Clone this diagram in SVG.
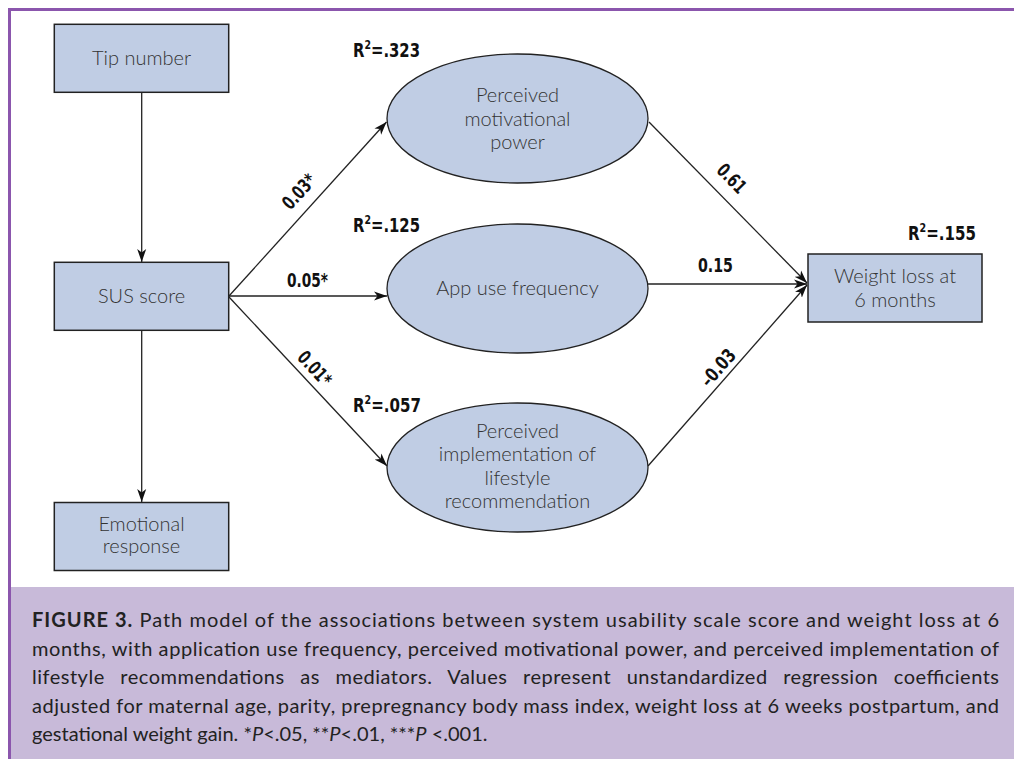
<svg xmlns="http://www.w3.org/2000/svg" width="1014" height="759" viewBox="0 0 1014 759">
<style>
.box{fill:#c0cde4;stroke:#222;stroke-width:1.5}
.ell{fill:#c0cde4;stroke:#222;stroke-width:1.3}
.nt{font-family:Lato,"Open Sans","Liberation Sans",sans-serif;font-weight:300;font-size:20px;fill:#333;text-anchor:middle}
.lb{font-family:"Liberation Sans Narrow","DejaVu Sans Condensed","Liberation Sans",sans-serif;font-weight:bold;font-size:19px;fill:#111;font-stretch:condensed}
.cn line{stroke:#222;stroke-width:1.3;marker-end:url(#arr)}
.cap{font-family:Lato,"Open Sans","Liberation Sans",sans-serif;font-size:20px;fill:#222}
</style>
<defs>
<marker id="arr" markerUnits="userSpaceOnUse" markerWidth="14" markerHeight="10" refX="13" refY="5" orient="auto">
<path d="M0,0.5 L13,5 L0,9.5 L3.5,5 z" fill="#111"/>
</marker>
</defs>
<rect width="1014" height="759" fill="#fff"/>
<rect x="10" y="587" width="1004" height="172" fill="#c8bad9"/>
<path d="M9.5,759 V9.5 H1014" fill="none" stroke="#8b56ad" stroke-width="3"/>

<g class="cn" id="connectors">
<line x1="141.7" y1="92.3" x2="141.7" y2="262"/>
<line x1="141.7" y1="330" x2="141.7" y2="502"/>
<line x1="229" y1="296" x2="386.5" y2="122"/>
<line x1="229" y1="296" x2="387" y2="296"/>
<line x1="229" y1="297" x2="387" y2="466"/>
<line x1="649" y1="122" x2="807" y2="283"/>
<line x1="647" y1="284" x2="807" y2="284"/>
<line x1="648" y1="466" x2="807" y2="285"/>
</g>

<g id="n-tip"><rect class="box" x="54.3" y="24.3" width="174.4" height="68"/><text class="nt" x="141.5" y="65">Tip number</text></g>
<g id="n-sus"><rect class="box" x="54.3" y="262.3" width="174.4" height="68"/><text class="nt" x="141.5" y="303">SUS score</text></g>
<g id="n-emo"><rect class="box" x="54.3" y="502.5" width="174.4" height="68"/><text class="nt" x="141.5" y="531">Emotional</text><text class="nt" x="141.5" y="553">response</text></g>
<g id="n-wl"><rect class="box" x="808" y="254" width="174" height="68"/><text class="nt" x="895" y="283">Weight loss at</text><text class="nt" x="895" y="307">6 months</text></g>
<g id="n-mot"><ellipse class="ell" cx="517.5" cy="118.5" rx="130.5" ry="64.5"/><text class="nt" x="517.5" y="102">Perceived</text><text class="nt" x="517.5" y="125.5">motivational</text><text class="nt" x="517.5" y="149">power</text></g>
<g id="n-app"><ellipse class="ell" cx="517.5" cy="288.5" rx="130.5" ry="64.5"/><text class="nt" x="517.5" y="295">App use frequency</text></g>
<g id="n-imp"><ellipse class="ell" cx="517.5" cy="467.5" rx="130.5" ry="64.5"/><text class="nt" x="517.5" y="437.5">Perceived</text><text class="nt" x="517.5" y="461">implementation of</text><text class="nt" x="517.5" y="484.5">lifestyle</text><text class="nt" x="517.5" y="508">recommendation</text></g>

<g id="labels">
<text class="lb" x="353" y="57" textLength="67" lengthAdjust="spacingAndGlyphs">R<tspan font-size="12" dy="-8">2</tspan><tspan dy="8">=.323</tspan></text>
<text class="lb" x="353" y="231.7" textLength="67" lengthAdjust="spacingAndGlyphs">R<tspan font-size="12" dy="-8">2</tspan><tspan dy="8">=.125</tspan></text>
<text class="lb" x="353" y="411.7" textLength="68" lengthAdjust="spacingAndGlyphs">R<tspan font-size="12" dy="-8">2</tspan><tspan dy="8">=.057</tspan></text>
<text class="lb" x="908" y="240" textLength="68" lengthAdjust="spacingAndGlyphs">R<tspan font-size="12" dy="-8">2</tspan><tspan dy="8">=.155</tspan></text>
<text class="lb" x="287" y="287.3" textLength="41" lengthAdjust="spacingAndGlyphs">0.05*</text>
<text class="lb" x="698" y="272.3" textLength="35" lengthAdjust="spacingAndGlyphs">0.15</text>
<text class="lb" text-anchor="middle" transform="translate(304,196) rotate(-48)" textLength="40" lengthAdjust="spacingAndGlyphs">0.03*</text>
<text class="lb" text-anchor="middle" transform="translate(310,373) rotate(47)" textLength="40" lengthAdjust="spacingAndGlyphs">0.01*</text>
<text class="lb" text-anchor="middle" transform="translate(727,183) rotate(46)" textLength="33" lengthAdjust="spacingAndGlyphs">0.61</text>
<text class="lb" text-anchor="middle" transform="translate(723,372) rotate(-49)" textLength="43" lengthAdjust="spacingAndGlyphs">–0.03</text>
</g>

<g id="caption" class="cap">
<text x="32" y="627" textLength="967" lengthAdjust="spacing"><tspan font-weight="bold">FIGURE 3.</tspan> Path model of the associations between system usability scale score and weight loss at 6</text>
<text x="32" y="655.5" textLength="967" lengthAdjust="spacing">months, with application use frequency, perceived motivational power, and perceived implementation of</text>
<text x="32" y="684" textLength="967" lengthAdjust="spacing" word-spacing="10">lifestyle recommendations as mediators. Values represent unstandardized regression coefficients</text>
<text x="32" y="712.5" textLength="967" lengthAdjust="spacing">adjusted for maternal age, parity, prepregnancy body mass index, weight loss at 6 weeks postpartum, and</text>
<text x="32" y="741">gestational weight gain. *<tspan font-style="italic">P</tspan>&lt;.05, **<tspan font-style="italic">P</tspan>&lt;.01, ***<tspan font-style="italic">P</tspan> &lt;.001.</text>
</g>
</svg>
